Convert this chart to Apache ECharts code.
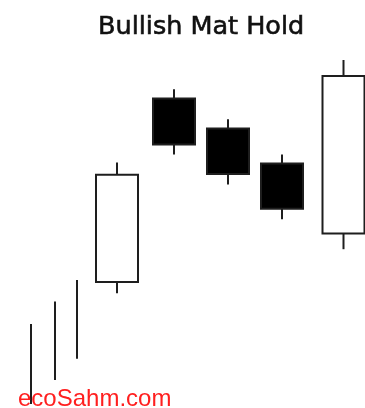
<!DOCTYPE html>
<html>
<head>
<meta charset="utf-8">
<script src="https://cdn.jsdelivr.net/npm/echarts@6/dist/echarts.min.js"></script>
<style>
  html, body { margin: 0; padding: 0; background: #fff; }
  #chart { width: 365px; height: 408px; }
</style>
</head>
<body>
<div id="chart"></div>
<script>
// Session positions along the time axis
const sessions = [11.7, 17.4, 22.8, 28.2, 34.35];
// OHLC for the pattern candles
const opens  = [31.5, 77.4, 69.9, 61.1, 43.6];
const closes = [58.3, 65.9, 58.5, 49.8, 83.0];
const lows   = [28.7, 63.4, 55.9, 47.2, 39.7];
const highs  = [61.4, 79.7, 72.2, 63.4, 87.0];

// Prior uptrend shown as plain range bars
const trendSessions = [3.1, 5.5, 7.7];
const trendLows  = [1.0, 7.0, 12.3];
const trendHighs = [21.0, 26.6, 32.0];

const titleText = 'Bullish Mat Hold';
const brandText = 'ecoSahm.com';

const candleData = sessions.map((x, i) => [x, opens[i], closes[i], lows[i], highs[i]]);
const trendData = trendSessions.map((x, i) => [x, trendLows[i], trendHighs[i]]);

const INK = '#1e1e1e';
const BODY_W = 4.2; // body width in session units

function renderCandle(params, api) {
  const x = api.value(0);
  const o = api.value(1), c = api.value(2), l = api.value(3), h = api.value(4);
  const top = Math.max(o, c), bot = Math.min(o, c);
  const pTop = api.coord([x, top]);
  const pBot = api.coord([x, bot]);
  const pHigh = api.coord([x, h]);
  const pLow = api.coord([x, l]);
  const w = api.size([BODY_W, 0])[0];
  const bullish = c >= o;
  return {
    type: 'group',
    children: [
      { type: 'line', shape: { x1: pHigh[0], y1: pHigh[1], x2: pTop[0], y2: pTop[1] },
        style: { stroke: INK, lineWidth: 2 } },
      { type: 'line', shape: { x1: pBot[0], y1: pBot[1], x2: pLow[0], y2: pLow[1] },
        style: { stroke: INK, lineWidth: 2 } },
      { type: 'rect', shape: { x: pTop[0] - w / 2, y: pTop[1], width: w, height: pBot[1] - pTop[1] },
        style: { fill: bullish ? '#ffffff' : '#000000', stroke: INK, lineWidth: 2 } }
    ]
  };
}

function renderRange(params, api) {
  const x = api.value(0);
  const pLow = api.coord([x, api.value(1)]);
  const pHigh = api.coord([x, api.value(2)]);
  return {
    type: 'line',
    shape: { x1: pLow[0], y1: pLow[1], x2: pHigh[0], y2: pHigh[1] },
    style: { stroke: INK, lineWidth: 2 }
  };
}

const chart = echarts.init(document.getElementById('chart'), null, { renderer: 'canvas' });
chart.setOption({
  animation: false,
  backgroundColor: '#ffffff',
  title: [
    {
      text: titleText,
      left: 93, top: 9,
      textStyle: {
        fontFamily: 'DejaVu Sans', fontSize: 25.5, fontWeight: 'normal', color: '#111111',
        textBorderColor: '#111111', textBorderWidth: 0.6
      }
    },
    {
      text: brandText,
      left: 13, top: 382,
      textStyle: { fontFamily: 'Liberation Sans', fontSize: 24, fontWeight: 'normal', color: '#ff1f1f' }
    }
  ],
  grid: { left: 0, right: 0, top: 0, bottom: 0 },
  xAxis: { type: 'value', min: 0, max: 36.5, show: false },
  yAxis: { type: 'value', min: 0, max: 102, show: false },
  series: [
    { type: 'custom', renderItem: renderRange, data: trendData, z: 1 },
    { type: 'custom', renderItem: renderCandle, data: candleData, z: 2 }
  ]
});
</script>
</body>
</html>
